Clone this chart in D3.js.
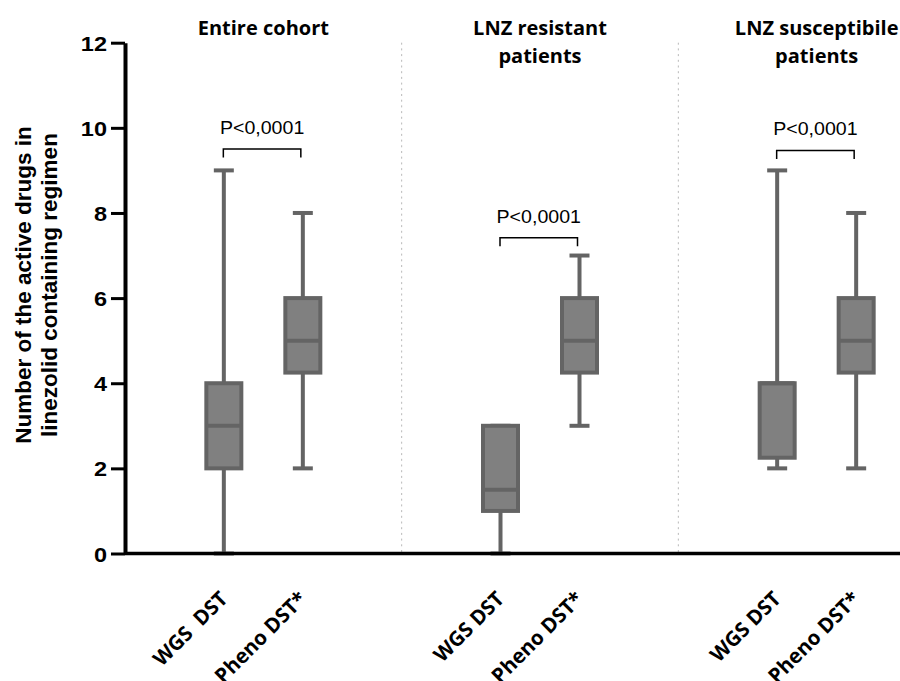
<!DOCTYPE html>
<html>
<head>
<meta charset="utf-8">
<script src="https://cdn.jsdelivr.net/npm/d3@7"></script>
<style>
  body { margin: 0; background: #fff; }
</style>
</head>
<body>
<div id="chart"></div>
<script>
// data
var groups = ["Entire cohort", "LNZ resistant patients", "LNZ susceptibile patients"];
var groupTitles = [["Entire cohort"], ["LNZ resistant", "patients"], ["LNZ susceptibile", "patients"]];
var methods = ["WGS DST", "Pheno DST*"];
var xLabels = [["WGS  DST", "Pheno DST*"], ["WGS DST", "Pheno DST*"], ["WGS DST", "Pheno DST*"]];
var mins    = [[0, 2], [0, 3], [2, 2]];
var q1s     = [[2, 4.25], [1, 4.25], [2.25, 4.25]];
var medians = [[3, 5], [1.5, 5], [4, 5]];
var q3s     = [[4, 6], [3, 6], [4, 6]];
var maxs    = [[9, 8], [3, 7], [9, 8]];
var pLabels = ["P<0,0001", "P<0,0001", "P<0,0001"];
var bracketLevels = [9.5, 7.42, 9.47];
var yTicks = [0, 2, 4, 6, 8, 10, 12];

(function() {
  var width = 900, height = 681;
  var boxColor = "#646464", boxFill = "#808080";

  var svg = d3.select("#chart")
    .append("svg")
    .attr("width", width)
    .attr("height", height);

  var y = d3.scaleLinear().domain([0, 12]).range([553.5, 42.7]);
  var x0 = d3.scaleBand().domain(groups).range([125, 955]);
  var x1 = d3.scalePoint().domain(methods).range([-39.5, 39.5]);

  function cx(gi, m) {
    return x0(groups[gi]) + x0.bandwidth() / 2 + x1(m);
  }

  // rows for the boxes
  var rows = [];
  groups.forEach(function(g, gi) {
    methods.forEach(function(m, mi) {
      rows.push({
        gi: gi, method: m, label: xLabels[gi][mi],
        min: mins[gi][mi], q1: q1s[gi][mi], median: medians[gi][mi],
        q3: q3s[gi][mi], max: maxs[gi][mi]
      });
    });
  });

  // dotted separators between panels
  svg.selectAll(".sep")
    .data(groups.slice(1))
    .enter().append("line")
    .attr("class", "sep")
    .attr("x1", function(d) { return x0(d) })
    .attr("x2", function(d) { return x0(d) })
    .attr("y1", y(12))
    .attr("y2", y(0))
    .attr("stroke", "#b8b8b8")
    .attr("stroke-width", 1)
    .attr("stroke-dasharray", "2,3.7");

  // whiskers
  var box = svg.selectAll(".box")
    .data(rows)
    .enter().append("g")
    .attr("class", "box")
    .attr("transform", function(d) { return "translate(" + cx(d.gi, d.method) + ",0)" });

  box.append("line")
    .attr("y1", function(d) { return y(d.min) })
    .attr("y2", function(d) { return y(d.max) })
    .attr("stroke", boxColor)
    .attr("stroke-width", 4);

  box.selectAll(".cap")
    .data(function(d) { return [d.min, d.max] })
    .enter().append("line")
    .attr("class", "cap")
    .attr("x1", -10)
    .attr("x2", 10)
    .attr("y1", function(v) { return y(v) })
    .attr("y2", function(v) { return y(v) })
    .attr("stroke", boxColor)
    .attr("stroke-width", 4);

  box.append("rect")
    .attr("x", -17.5)
    .attr("width", 35)
    .attr("y", function(d) { return y(d.q3) })
    .attr("height", function(d) { return y(d.q1) - y(d.q3) })
    .attr("fill", boxFill)
    .attr("stroke", boxColor)
    .attr("stroke-width", 4);

  box.append("line")
    .attr("x1", -17.5)
    .attr("x2", 17.5)
    .attr("y1", function(d) { return y(d.median) })
    .attr("y2", function(d) { return y(d.median) })
    .attr("stroke", boxColor)
    .attr("stroke-width", 4);

  // y axis
  var yAxis = d3.axisLeft(y).tickValues(yTicks).tickSize(14).tickSizeOuter(0);
  var yg = svg.append("g")
    .attr("class", "axis y-axis")
    .attr("transform", "translate(125,0)")
    .call(yAxis);
  yg.select(".domain").attr("stroke", "#000").attr("stroke-width", 4);
  yg.selectAll(".tick line").attr("stroke", "#000").attr("stroke-width", 3);
  yg.selectAll(".tick text")
    .attr("x", -18 / 1.12)
    .attr("dy", null)
    .attr("y", 7.5)
    .attr("transform", "scale(1.12,1)")
    .attr("fill", "#000")
    .style("font-family", "'Liberation Sans', Arial, sans-serif")
    .style("font-weight", "bold")
    .style("font-size", "21px");

  // x axis line
  svg.append("line")
    .attr("x1", x0.range()[0])
    .attr("x2", x0.range()[1])
    .attr("y1", y(0))
    .attr("y2", y(0))
    .attr("stroke", "#000")
    .attr("stroke-width", 3.7);

  // x labels
  svg.selectAll(".xlab")
    .data(rows)
    .enter().append("text")
    .attr("class", "xlab")
    .attr("text-anchor", "end")
    .attr("transform", function(d) {
      return "translate(" + (cx(d.gi, d.method) + 5) + ",600)rotate(-45)";
    })
    .style("white-space", "pre")
    .style("font-family", "'Open Sans', sans-serif")
    .style("font-weight", "bold")
    .style("font-size", "20.5px")
    .text(function(d) { return d.label });

  // panel titles
  groups.forEach(function(g, gi) {
    svg.append("text")
      .attr("text-anchor", "middle")
      .attr("x", x0(g) + x0.bandwidth() / 2)
      .attr("y", 35)
      .style("font-family", "'Open Sans', sans-serif")
      .style("font-weight", "bold")
      .style("font-size", "20px")
      .selectAll("tspan")
      .data(groupTitles[gi])
      .enter().append("tspan")
      .attr("x", x0(g) + x0.bandwidth() / 2)
      .attr("dy", function(d, i) { return i ? 28 : 0 })
      .text(function(d) { return d });
  });

  // significance brackets
  groups.forEach(function(g, gi) {
    var a = cx(gi, methods[0]) - 0.5, b = cx(gi, methods[1]) - 2, by = y(bracketLevels[gi]);
    svg.append("path")
      .attr("d", "M" + a + "," + (by + 8.5) + "V" + by + "H" + b + "V" + (by + 8.5))
      .attr("fill", "none")
      .attr("stroke", "#000")
      .attr("stroke-width", 1.5);
    svg.append("g")
      .attr("transform", "translate(" + ((a + b) / 2) + "," + (by - 15) + ")")
      .append("text")
      .attr("text-anchor", "middle")
      .attr("transform", "scale(1.12,1)")
      .style("font-family", "'Liberation Sans', Arial, sans-serif")
      .style("font-size", "17.5px")
      .text(pLabels[gi]);
  });

  // y axis title
  var yTitle = ["Number of the active drugs in", "linezolid containing regimen"];
  svg.selectAll(".ytitle")
    .data(yTitle)
    .enter().append("text")
    .attr("class", "ytitle")
    .attr("text-anchor", "middle")
    .attr("transform", function(d, i) { return "translate(" + (31 + i * 26) + ",285)rotate(-90)" })
    .style("font-family", "'Liberation Sans', Arial, sans-serif")
    .style("font-weight", "bold")
    .style("font-size", "22.5px")
    .text(function(d) { return d });
})();
</script>
</body>
</html>
